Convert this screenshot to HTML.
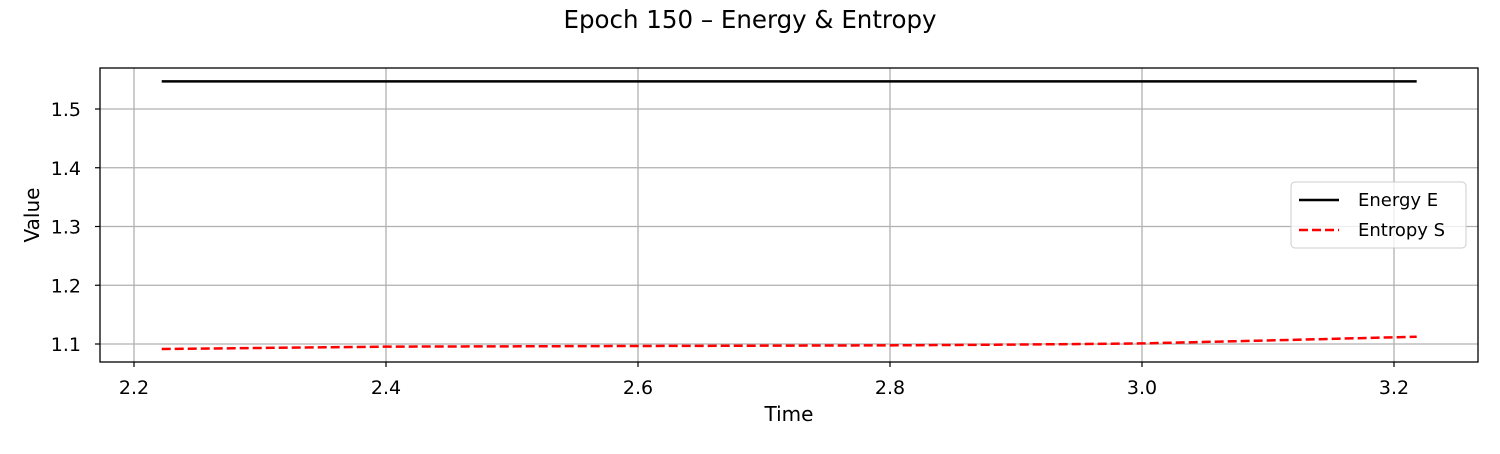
<!DOCTYPE html>
<html><head><meta charset="utf-8"><style>
body{margin:0;background:#fff;font-family:"DejaVu Sans","Liberation Sans",sans-serif}
</style></head><body>
<svg width="1500" height="450" xmlns="http://www.w3.org/2000/svg" font-family="DejaVu Sans, Liberation Sans, sans-serif">
<text x="750" y="28" text-anchor="middle" font-size="24.5">Epoch 150 – Energy &amp; Entropy</text>
<g id="grid"></g>
<g id="series"></g>
<rect x="100" y="68" width="1378" height="294" fill="none" stroke="#000" stroke-width="1.3"/>
<g id="axes" font-size="19"></g>
<text x="789" y="421" text-anchor="middle" font-size="20">Time</text>
<text transform="translate(39,215) rotate(-90)" text-anchor="middle" font-size="20">Value</text>
<g>
<rect x="1291" y="182" width="175" height="66" rx="4" fill="#fff" fill-opacity="0.8" stroke="#ccc"/>
<line x1="1299" y1="200" x2="1339" y2="200" stroke="#000" stroke-width="2.5"/>
<text x="1358" y="206" font-size="18">Energy E</text>
<line x1="1299" y1="230" x2="1339" y2="230" stroke="red" stroke-width="2.5" stroke-dasharray="9,4"/>
<text x="1358" y="236" font-size="18">Entropy S</text>
</g>
</svg>
<script>
const xTicks=[2.2,2.4,2.6,2.8,3.0,3.2];
const xTickLabels=["2.2","2.4","2.6","2.8","3.0","3.2"];
const yTicks=[1.1,1.2,1.3,1.4,1.5];
const yTickLabels=["1.1","1.2","1.3","1.4","1.5"];
const times=[2.222,2.4,2.6,2.8,2.9,3.0,3.1,3.218];
const energy=[1.547,1.547,1.547,1.547,1.547,1.547,1.547,1.547];
const entropy=[1.0915,1.0955,1.0966,1.0977,1.099,1.101,1.106,1.1124];
const X=v=>134+(v-2.2)/0.2*252;
const Y=v=>344-(v-1.1)/0.1*58.75;
const NS="http://www.w3.org/2000/svg";
const grid=document.getElementById('grid'),axes=document.getElementById('axes'),ser=document.getElementById('series');
function mk(tag,attrs,parent){const e=document.createElementNS(NS,tag);for(const k in attrs)e.setAttribute(k,attrs[k]);parent.appendChild(e);return e;}
xTicks.forEach((t,i)=>{
 const g=mk('line',{x1:X(t),x2:X(t),y1:68,y2:362,stroke:'#b0b0b0','stroke-width':1.3},grid);
 
 
 mk('line',{x1:X(t),x2:X(t),y1:362,y2:367,stroke:'#000','stroke-width':1.2},axes);
 const tx=mk('text',{x:X(t),y:394,'text-anchor':'middle'},axes);tx.textContent=xTickLabels[i];
 
 
});
yTicks.forEach((t,i)=>{
 const g=mk('line',{x1:100,x2:1478,y1:Y(t),y2:Y(t),stroke:'#b0b0b0','stroke-width':1.3},grid);
 
 
 mk('line',{x1:95,x2:100,y1:Y(t),y2:Y(t),stroke:'#000','stroke-width':1.2},axes);
 const tx=mk('text',{x:81,y:Y(t)+7,'text-anchor':'end'},axes);tx.textContent=yTickLabels[i];
 
 
});
const pts=a=>a.map((v,i)=>X(times[i])+','+Y(v)).join(' ');
const e=mk('polyline',{points:pts(energy),fill:'none',stroke:'#000','stroke-width':2.5},ser);


const s=mk('polyline',{points:pts(entropy),fill:'none',stroke:'red','stroke-width':2.5,'stroke-dasharray':'9,4'},ser);


</script>
</body></html>
